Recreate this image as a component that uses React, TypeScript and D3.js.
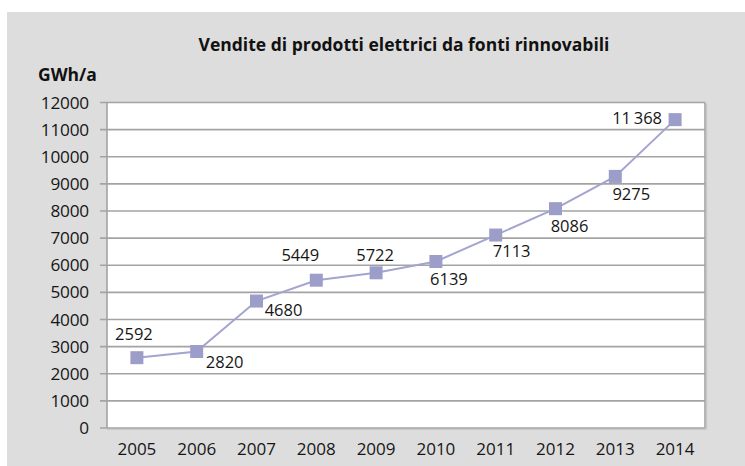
import React from "react";
import * as d3 from "d3";

const years = ["2005", "2006", "2007", "2008", "2009", "2010", "2011", "2012", "2013", "2014"];
const sales = [2592, 2820, 4680, 5449, 5722, 6139, 7113, 8086, 9275, 11368];
const yTicks = [0, 1000, 2000, 3000, 4000, 5000, 6000, 7000, 8000, 9000, 10000, 11000, 12000];
const title = "Vendite di prodotti elettrici da fonti rinnovabili";
const unitLabel = "GWh/a";

// label placement offsets (dx, dy) of the label centre relative to the marker centre
const labelOffsets: [number, number][] = [
  [-3, -24], [28, 10], [27, 9], [-16, -25], [-1, -18],
  [13, 18], [16, 16], [14, 17], [16, 18], [-38, -2],
];

const W = 745;
const H = 466;
const M = { left: 107, right: 705, top: 102.5, bottom: 428 };
const FONT = "'Open Sans', 'Noto Sans', sans-serif";

function fmtLabel(v: number): string {
  if (v >= 10000) {
    const s = String(v);
    return s.slice(0, s.length - 3) + "\u2009" + s.slice(s.length - 3);
  }
  return String(v);
}

export default function App() {
  const x = d3.scaleBand<string>().domain(years).range([M.left, M.right]).padding(0);
  const y = d3.scaleLinear().domain([0, 12000]).range([M.bottom, M.top]);
  const cx = (i: number) => (x(years[i]) as number) + x.bandwidth() / 2;
  const line = d3
    .line<number>()
    .x((_, i) => cx(i))
    .y((d) => y(d));

  const gridColor = "#a3a3a3";
  const lineColor = "#a4a4d0";
  const markerColor = "#9d9dc9";
  const ms = 13;
  const textColor = "#161616";

  return (
    <svg
      width={W}
      height={H}
      style={{ position: "absolute", left: 0, top: 0, display: "block" }}
      fontFamily={FONT}
    >
      <rect x={0} y={0} width={W} height={H} fill="#ffffff" />
      <rect x={7} y={12} width={W - 7} height={H - 12} fill="#dddddd" />
      <rect
        x={M.left}
        y={M.top}
        width={M.right - M.left}
        height={M.bottom - M.top}
        fill="#ffffff"
      />
      <text
        x={404}
        y={51}
        textAnchor="middle"
        fontSize={17.5}
        fontWeight={700}
        fill="#111"
      >
        {title}
      </text>
      <text x={38} y={81} fontSize={17.5} fontWeight={700} fill="#111">
        {unitLabel}
      </text>
      {yTicks.map((t) => (
        <g key={t}>
          <line
            x1={M.left - 7}
            x2={M.right}
            y1={y(t)}
            y2={y(t)}
            stroke={gridColor}
            strokeWidth={1.6}
          />
          <text
            x={89}
            y={y(t) + 6}
            textAnchor="end"
            fontSize={17.2}
            fill={textColor}
            letterSpacing={-0.2}
          >
            {t}
          </text>
        </g>
      ))}
      <line x1={M.left} x2={M.left} y1={M.top} y2={M.bottom} stroke={gridColor} strokeWidth={1.6} />
      <line x1={M.right} x2={M.right} y1={M.top} y2={M.bottom} stroke={gridColor} strokeWidth={1.6} />
      <line x1={M.right + 1.5} x2={M.right + 1.5} y1={M.top + 1} y2={M.bottom + 1.5} stroke="#c8c8c8" strokeWidth={1.5} />
      <line x1={M.left} x2={M.right + 2} y1={M.bottom + 1.5} y2={M.bottom + 1.5} stroke="#c8c8c8" strokeWidth={1} />
      {years.map((yr, i) => (
        <text key={yr} x={cx(i)} y={455} textAnchor="middle" fontSize={17} fill={textColor}>
          {yr}
        </text>
      ))}
      <path d={line(sales) || ""} fill="none" stroke={lineColor} strokeWidth={2} />
      {sales.map((v, i) => (
        <rect
          key={i}
          x={cx(i) - ms / 2}
          y={y(v) - ms / 2}
          width={ms}
          height={ms}
          fill={markerColor}
        />
      ))}
      {sales.map((v, i) => (
        <text
          key={"l" + i}
          x={cx(i) + labelOffsets[i][0]}
          y={y(v) + labelOffsets[i][1] + 6}
          textAnchor="middle"
          fontSize={16.5}
          fill={textColor}
        >
          {fmtLabel(v)}
        </text>
      ))}
    </svg>
  );
}
